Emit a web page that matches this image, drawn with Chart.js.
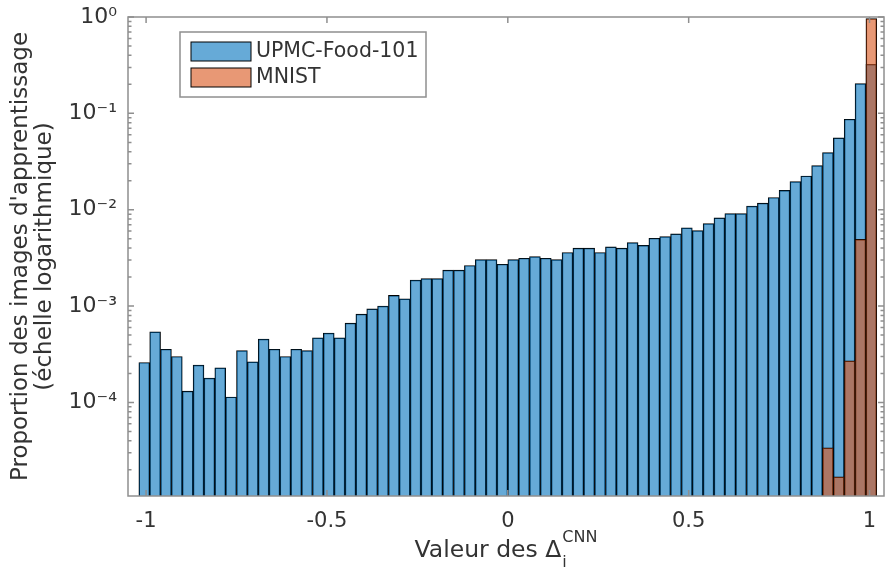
<!DOCTYPE html>
<html><head><meta charset="utf-8">
<script src="https://cdn.jsdelivr.net/npm/chart.js@4.4.1/dist/chart.umd.min.js"></script>
<style>html,body{margin:0;padding:0;background:#fff;}canvas{display:block;}</style>
</head><body>
<canvas id="c" width="885" height="571"></canvas>
<script>
// ---- data ----
const binCenters = [
 -1.005,-0.975,-0.945,-0.915,-0.885,-0.855,-0.825,-0.795,-0.765,-0.735,
 -0.705,-0.675,-0.645,-0.615,-0.585,-0.555,-0.525,-0.495,-0.465,-0.435,
 -0.405,-0.375,-0.345,-0.315,-0.285,-0.255,-0.225,-0.195,-0.165,-0.135,
 -0.105,-0.075,-0.045,-0.015, 0.015, 0.045, 0.075, 0.105, 0.135, 0.165,
  0.195, 0.225, 0.255, 0.285, 0.315, 0.345, 0.375, 0.405, 0.435, 0.465,
  0.495, 0.525, 0.555, 0.585, 0.615, 0.645, 0.675, 0.705, 0.735, 0.765,
  0.795, 0.825, 0.855, 0.885, 0.915, 0.945, 0.975, 1.005];
const upmcValues = [
 2.60e-4,5.40e-4,3.57e-4,3.00e-4,1.31e-4,2.44e-4,1.79e-4,2.29e-4,1.14e-4,3.46e-4,
 2.64e-4,4.54e-4,3.57e-4,3.00e-4,3.57e-4,3.46e-4,4.68e-4,5.24e-4,4.68e-4,6.65e-4,
 8.24e-4,9.35e-4,1.00e-3,1.29e-3,1.19e-3,1.86e-3,1.93e-3,1.93e-3,2.36e-3,2.36e-3,
 2.64e-3,3.04e-3,3.04e-3,2.72e-3,3.04e-3,3.14e-3,3.27e-3,3.14e-3,3.04e-3,3.60e-3,
 3.99e-3,3.99e-3,3.60e-3,4.11e-3,3.99e-3,4.57e-3,4.28e-3,5.06e-3,5.27e-3,5.61e-3,
 6.48e-3,6.08e-3,7.19e-3,8.22e-3,9.12e-3,9.12e-3,1.09e-2,1.17e-2,1.34e-2,1.59e-2,
 1.96e-2,2.24e-2,2.87e-2,3.92e-2,5.56e-2,8.69e-2,0.204,0.323];
const mnistCenters = [0.885, 0.915, 0.945, 0.975, 1.005];
const mnistValues  = [3.38e-5, 1.69e-5, 2.70e-4, 4.94e-3, 0.962];
const seriesLabels = ['UPMC-Food-101', 'MNIST'];
const xTickValues = [-1, -0.5, 0, 0.5, 1];
const xTickLabels = ['-1', '-0.5', '0', '0.5', '1'];
const yTickValues = [1e-4, 1e-3, 1e-2, 1e-1, 1];
const yTickLabels = ['10\u207B\u2074', '10\u207B\u00B3', '10\u207B\u00B2', '10\u207B\u00B9', '10\u2070'];
const yTitleLines = ["Proportion des images d'apprentissage", '(\u00E9chelle logarithmique)'];
const xTitleMain = 'Valeur des \u0394';
const xTitleSub = 'i';
const xTitleSup = 'CNN';

const FONT = "'DejaVu Sans', sans-serif";
const TEXT = '#333333';
const AXIS = '#8f8f8f';

const matlabAxes = {
  id: 'matlabAxes',
  afterDatasetsDraw(chart) {
    const {ctx, chartArea: a, scales: {x, y}} = chart;
    ctx.save();
    ctx.strokeStyle = AXIS;
    ctx.lineWidth = 1.5;
    ctx.beginPath();
    xTickValues.forEach(v => {
      const px = x.getPixelForValue(v);
      ctx.moveTo(px, a.bottom); ctx.lineTo(px, a.bottom - 6);
      ctx.moveTo(px, a.top); ctx.lineTo(px, a.top + 6);
    });
    for (let e = -5; e <= 0; e++) {
      for (let k = 1; k <= 9; k++) {
        const v = k * Math.pow(10, e);
        if (v < y.min || v > y.max) continue;
        const py = y.getPixelForValue(v);
        const len = k === 1 ? 6 : 3.5;
        ctx.moveTo(a.left, py); ctx.lineTo(a.left + len, py);
        ctx.moveTo(a.right, py); ctx.lineTo(a.right - len, py);
      }
    }
    ctx.stroke();
    ctx.strokeRect(a.left, a.top, a.right - a.left, a.bottom - a.top);

    // legend box
    const bx = a.left + 52, by = a.top + 15, bw = 246, bh = 65;
    ctx.fillStyle = '#ffffff';
    ctx.fillRect(bx, by, bw, bh);
    ctx.strokeRect(bx, by, bw, bh);
    chart.data.datasets.forEach((ds, i) => {
      const sy = by + 10 + i * 26;
      ctx.fillStyle = '#ffffff';
      ctx.fillRect(bx + 11, sy, 60, 19);
      ctx.fillStyle = ds.backgroundColor;
      ctx.fillRect(bx + 11, sy, 60, 19);
      ctx.strokeStyle = '#000';
      ctx.lineWidth = 1;
      ctx.strokeRect(bx + 11, sy, 60, 19);
      ctx.fillStyle = TEXT;
      ctx.font = '20.5px ' + FONT;
      ctx.textBaseline = 'middle';
      ctx.textAlign = 'left';
      ctx.fillText(ds.label, bx + 76, sy + 10);
    });

    // x title with sub/superscript
    const mainF = '23.5px ' + FONT, smallF = '16px ' + FONT;
    ctx.font = mainF; const w1 = ctx.measureText(xTitleMain).width;
    ctx.font = smallF; const w2 = ctx.measureText(xTitleSub).width, w3 = ctx.measureText(xTitleSup).width;
    const total = w1 + Math.max(w2, w3) + 1;
    const cx = (a.left + a.right) / 2;
    const x0 = cx - total / 2;
    const base = 557;
    ctx.fillStyle = TEXT;
    ctx.textBaseline = 'alphabetic';
    ctx.textAlign = 'left';
    ctx.font = mainF; ctx.fillText(xTitleMain, x0, base);
    ctx.font = smallF;
    ctx.fillText(xTitleSub, x0 + w1 + 1, base + 10);
    ctx.fillText(xTitleSup, x0 + w1 + 1, base - 15);
    ctx.restore();
  }
};

new Chart(document.getElementById('c'), {
  type: 'bar',
  data: {
    datasets: [
      {
        label: seriesLabels[0],
        data: binCenters.map((c, i) => ({x: c, y: upmcValues[i]})),
        backgroundColor: 'rgba(0,114,189,0.6)',
        borderColor: '#000000',
        borderWidth: 0.8,
        order: 1
      },
      {
        label: seriesLabels[1],
        data: mnistCenters.map((c, i) => ({x: c, y: mnistValues[i]})),
        backgroundColor: 'rgba(217,83,25,0.6)',
        borderColor: '#000000',
        borderWidth: 0.8,
        order: 0
      }
    ]
  },
  options: {
    responsive: false,
    devicePixelRatio: 1,
    animation: false,
    grouped: false,
    barPercentage: 1,
    categoryPercentage: 1,
    layout: {padding: {top: 17, right: 1, left: 0, bottom: 0}},
    plugins: {legend: {display: false}, tooltip: {enabled: false}},
    scales: {
      x: {
        type: 'linear',
        offset: false,
        min: -1.05, max: 1.04,
        afterBuildTicks: s => { s.ticks = xTickValues.map(v => ({value: v})); },
        afterFit: s => { s.height = 75; s.paddingLeft = 0; s.paddingRight = 0; },
        grid: {display: false, drawTicks: false},
        border: {display: false},
        ticks: {
          callback: (v, i) => xTickLabels[i],
          font: {family: FONT, size: 21}, color: TEXT, padding: 13,
          maxRotation: 0, autoSkip: false
        }
      },
      y: {
        type: 'logarithmic',
        min: 1.07e-5, max: 1,
        afterBuildTicks: s => { s.ticks = yTickValues.map(v => ({value: v})); },
        afterFit: s => { s.width = 128; s.paddingTop = 0; s.paddingBottom = 0; },
        grid: {display: false, drawTicks: false},
        border: {display: false},
        ticks: {
          callback: (v, i) => yTickLabels[i],
          font: {family: FONT, size: 22}, color: TEXT, padding: 11,
          autoSkip: false
        },
        title: {
          display: true, text: yTitleLines,
          font: {family: FONT, size: 23, lineHeight: 1.04}, color: TEXT,
          padding: {top: 9, bottom: 0}
        }
      }
    }
  },
  plugins: [matlabAxes]
});
</script>
</body></html>
